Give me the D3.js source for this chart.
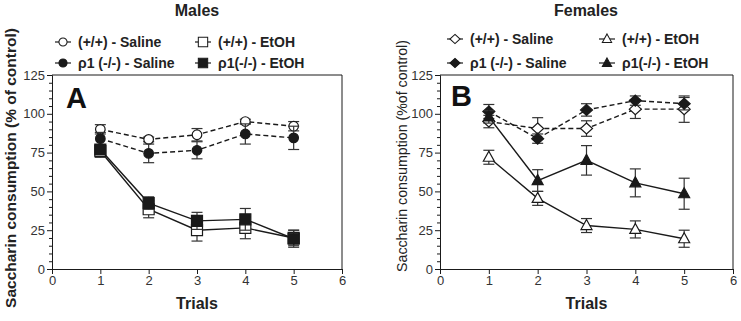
<!DOCTYPE html>
<html>
<head>
<meta charset="utf-8">
<script src="https://cdn.jsdelivr.net/npm/d3@7"></script>
<style>
  body { margin: 0; background: #fff; }
  svg { display: block; font-family: "Liberation Sans", Arial, sans-serif; }
</style>
</head>
<body>
<div id="chart"></div>
<script>
// ── Data ────────────────────────────────────────────────
var trials = [1, 2, 3, 4, 5];
var xTicks = [0, 1, 2, 3, 4, 5, 6];
var yTicks = [0, 25, 50, 75, 100, 125];

// Males
var mWtSal     = [90, 83.5, 86.5, 95, 92];
var mWtSalErr  = [3, 1.5, 4, 1.5, 3];
var mKoSal     = [84, 74.5, 76.5, 87, 84.5];
var mKoSalErr  = [4, 6, 5.5, 6.5, 7.5];
var mWtEtoh    = [76, 38.5, 25, 26.5, 20];
var mWtEtohErr = [4, 5.5, 7, 7, 5];
var mKoEtoh    = [77, 42.5, 31, 32, 19.5];
var mKoEtohErr = [3, 4, 5.5, 7, 5.5];

// Females
var fWtSal     = [95, 90.5, 90.5, 103, 103];
var fWtSalErr  = [4, 7, 5, 6, 8.5];
var fKoSal     = [101.5, 84, 102.5, 108.5, 106.5];
var fKoSalErr  = [4.5, 3, 4, 3, 4];
var fWtEtoh    = [72, 45.5, 28, 25.5, 19.5];
var fWtEtohErr = [4.5, 4.5, 4.5, 5.5, 5.5];
var fKoEtoh    = [98, 57, 70, 55.5, 48.5];
var fKoEtohErr = [4, 7, 9.5, 9, 10];

var W = 741, H = 321;
var svg = d3.select('#chart').append('svg').attr('width', W).attr('height', H);

var INK = '#1a1a1a';

// marker shapes, centred on 0,0
function symbolPath(shape) {
  if (shape === 'diamond') return 'M0,-5.5L6,0L0,5.5L-6,0Z';
  if (shape === 'square')  return 'M-5.5,-5.5H5.5V5.5H-5.5Z';
  if (shape === 'triangle') return 'M0,-6L5.5,4H-5.5Z';
  return d3.symbol().type(d3.symbolCircle).size(72)();
}

function drawPanel(cfg) {
  var x = d3.scaleLinear().domain([0, 6]).range([cfg.left, cfg.right]);
  var y = d3.scaleLinear().domain([0, 125]).range([269, 75]);
  var g = svg.append('g');

  // frame (top & right)
  g.append('path')
    .attr('d', 'M' + cfg.left + ',' + y(125) + 'H' + cfg.right + 'V' + y(0))
    .attr('fill', 'none').attr('stroke', INK).attr('stroke-width', 1);

  g.append('g').attr('transform', 'translate(' + cfg.left + ',0)')
    .call(d3.axisLeft(y).tickValues(yTicks).tickSize(5).tickPadding(2));
  g.append('g').attr('transform', 'translate(' + cfg.left + ',0)')
    .call(d3.axisLeft(y).tickValues(d3.range(0, 126, 5).filter(function(v) { return v % 25; }))
      .tickSize(3).tickFormat(''))
    .select('.domain').remove();
  g.append('g').attr('transform', 'translate(0,' + y(0) + ')')
    .call(d3.axisBottom(x).tickValues(xTicks).tickFormat(d3.format('d')).tickSize(5).tickPadding(2));

  g.selectAll('.tick text').attr('font-size', 13).attr('fill', '#333')
    .attr('font-family', '"Liberation Sans", Arial, sans-serif');
  g.selectAll('.domain, .tick line').attr('stroke', INK).attr('stroke-width', 1);

  // labels
  g.append('text').attr('x', cfg.titleX).attr('y', 16)
    .attr('text-anchor', 'middle').attr('font-size', 16).attr('font-weight', 'bold')
    .attr('fill', '#222').text(cfg.title);
  g.append('text').attr('x', (cfg.left + cfg.right) / 2).attr('y', 309)
    .attr('text-anchor', 'middle').attr('font-size', 16).attr('font-weight', 'bold')
    .attr('fill', '#222').text('Trials');
  g.append('text')
    .attr('transform', 'translate(' + cfg.ylabX + ',' + cfg.ylabY + ') rotate(-90)')
    .attr('text-anchor', 'middle').attr('font-size', cfg.ylabSize).attr('font-weight', cfg.ylabWeight)
    .attr('fill', '#222').text(cfg.ylabText);
  g.append('text').attr('x', cfg.letterX).attr('y', cfg.letterY)
    .attr('font-size', 29).attr('font-weight', 'bold').attr('fill', '#111').text(cfg.letter);

  // series
  cfg.series.forEach(function(s) {
    var pts = trials.map(function(t, i) { return { t: t, v: s.values[i], e: s.errors[i] }; });
    var line = d3.line().x(function(d) { return x(d.t); }).y(function(d) { return y(d.v); });
    g.append('path').datum(pts).attr('d', line)
      .attr('fill', 'none').attr('stroke', INK).attr('stroke-width', 1.4)
      .attr('stroke-dasharray', s.dashed ? '5,3' : null);
    var eb = g.append('g').attr('stroke', '#333').attr('stroke-width', 1.2);
    pts.forEach(function(d) {
      var cx = x(d.t), y1 = y(d.v + d.e), y2 = y(d.v - d.e);
      eb.append('line').attr('x1', cx).attr('x2', cx).attr('y1', y1).attr('y2', y2);
      eb.append('line').attr('x1', cx - 5.5).attr('x2', cx + 5.5).attr('y1', y1).attr('y2', y1);
      eb.append('line').attr('x1', cx - 5.5).attr('x2', cx + 5.5).attr('y1', y2).attr('y2', y2);
    });
    g.selectAll(null).data(pts).enter().append('path')
      .attr('d', symbolPath(s.shape))
      .attr('transform', function(d) { return 'translate(' + x(d.t) + ',' + y(d.v) + ')'; })
      .attr('fill', s.filled ? INK : '#fff')
      .attr('stroke', INK).attr('stroke-width', 1.2);
  });

  // legend
  cfg.series.forEach(function(s) {
    var lx = cfg.legendX[s.col], ly = cfg.legendY[s.row];
    g.append('line').attr('x1', lx - 8).attr('x2', lx + 8).attr('y1', ly).attr('y2', ly)
      .attr('stroke', INK).attr('stroke-width', 1.2);
    g.append('path').attr('d', symbolPath(s.shape))
      .attr('transform', 'translate(' + lx + ',' + ly + ') scale(0.85)')
      .attr('fill', s.filled ? INK : '#fff').attr('stroke', INK).attr('stroke-width', 1.2);
    g.append('text').attr('x', lx + 15).attr('y', ly + 5)
      .attr('font-size', 14).attr('font-weight', 'bold').attr('fill', '#222').text(s.label);
  });
}

drawPanel({
  left: 52, right: 342, title: 'Males', titleX: 197, letter: 'A', letterX: 66, letterY: 108,
  ylabX: 16, ylabY: 168, ylabSize: 15.5, ylabWeight: 'bold', ylabText: 'Saccharin consumption (% of control)',
  legendX: [63, 203], legendY: [42, 63],
  series: [
    { label: '(+/+) - Saline',    values: mWtSal,  errors: mWtSalErr,  shape: 'circle', filled: false, dashed: true,  row: 0, col: 0 },
    { label: 'ρ1 (-/-) - Saline', values: mKoSal,  errors: mKoSalErr,  shape: 'circle', filled: true,  dashed: true,  row: 1, col: 0 },
    { label: '(+/+) - EtOH',      values: mWtEtoh, errors: mWtEtohErr, shape: 'square', filled: false, dashed: false, row: 0, col: 1 },
    { label: 'ρ1(-/-) - EtOH',    values: mKoEtoh, errors: mKoEtohErr, shape: 'square', filled: true,  dashed: false, row: 1, col: 1 }
  ]
});

drawPanel({
  left: 440, right: 733, title: 'Females', titleX: 586, letter: 'B', letterX: 451, letterY: 106,
  ylabX: 407, ylabY: 156, ylabSize: 14.2, ylabWeight: 'normal', ylabText: 'Saccharin consumption (%of control)',
  legendX: [455, 607], legendY: [39, 63],
  series: [
    { label: '(+/+) - Saline',    values: fWtSal,  errors: fWtSalErr,  shape: 'diamond',  filled: false, dashed: true,  row: 0, col: 0 },
    { label: 'ρ1 (-/-) - Saline', values: fKoSal,  errors: fKoSalErr,  shape: 'diamond',  filled: true,  dashed: true,  row: 1, col: 0 },
    { label: '(+/+) - EtOH',      values: fWtEtoh, errors: fWtEtohErr, shape: 'triangle', filled: false, dashed: false, row: 0, col: 1 },
    { label: 'ρ1(-/-) - EtOH',    values: fKoEtoh, errors: fKoEtohErr, shape: 'triangle', filled: true,  dashed: false, row: 1, col: 1 }
  ]
});
</script>
</body>
</html>
